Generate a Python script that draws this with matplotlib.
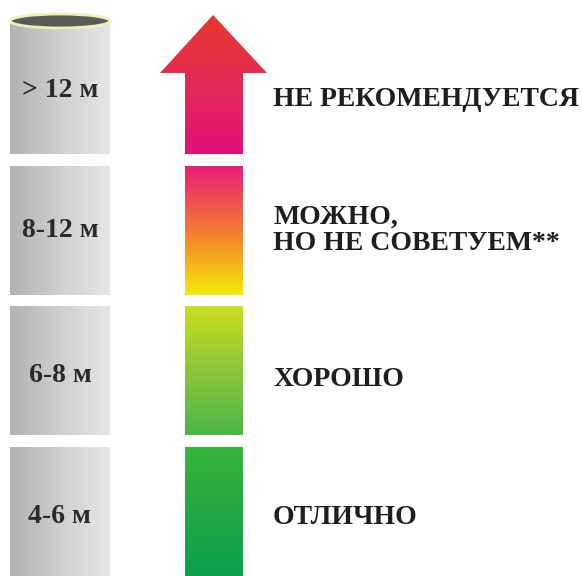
import numpy as np
import matplotlib.pyplot as plt
from matplotlib.patches import Polygon, Ellipse
from matplotlib.colors import to_rgb

# Данные
ranges = ['> 12 м', '8-12 м', '6-8 м', '4-6 м']
verdicts = ['НЕ РЕКОМЕНДУЕТСЯ', 'МОЖНО,\nНО НЕ СОВЕТУЕМ**', 'ХОРОШО', 'ОТЛИЧНО']
grad_colors = [
    ['#e8382c', '#e42a55', '#e2127a'],
    ['#e81e78', '#f47a32', '#f4ea08'],
    ['#cade1e', '#8cc63a', '#4cb648'],
    ['#38b63a', '#22a844', '#0ea04e'],
]

W, H = 582, 576
fig = plt.figure(figsize=(W / 100, H / 100), dpi=100)
ax = fig.add_axes([0, 0, 1, 1])
ax.set_xlim(0, W)
ax.set_ylim(H, 0)
ax.axis('off')

font = ['Liberation Serif', 'DejaVu Serif']


def gradient(cols, n=256):
    rgb = np.array([to_rgb(c) for c in cols])
    t = np.linspace(0, 1, n)
    pos = np.linspace(0, 1, len(cols))
    return np.stack([np.interp(t, pos, rgb[:, k]) for k in range(3)], axis=-1)


step = 140.5
seg_h = 129
cyl_x0, cyl_x1 = 10, 110
bar_x0, bar_x1 = 185, 243
label_dy = [3, 0, 5, 5]
verdict_dy = [12, 0, 8, 6]

for i, (rng, verdict, cols) in enumerate(zip(ranges, verdicts, grad_colors)):
    bottom = H - (len(ranges) - 1 - i) * step
    top = bottom - seg_h
    if i == 0:
        top = 21

    # серый цилиндр
    g = gradient(['#b2b2b2', '#cfcfcf', '#e6e6e6'])[np.newaxis, :, :]
    ax.imshow(g, extent=(cyl_x0, cyl_x1, bottom, top), aspect='auto', zorder=1)
    ax.text((cyl_x0 + cyl_x1) / 2, (top + bottom) / 2 + label_dy[i], rng,
            ha='center', va='center', fontsize=20, fontweight='bold',
            family=font, color='#2a2a2a', zorder=3)

    # цветная полоса
    v = gradient(cols)[:, np.newaxis, :]
    if i == 0:
        tip = 15
        head_y = 73
        poly = Polygon([(213, tip), (267, head_y), (bar_x1, head_y), (bar_x1, bottom),
                        (bar_x0, bottom), (bar_x0, head_y), (160, head_y)],
                       closed=True, facecolor='none', edgecolor='none')
        ax.add_patch(poly)
        im = ax.imshow(v, extent=(160, 267, bottom, tip), aspect='auto', zorder=1)
        im.set_clip_path(poly)
    else:
        ax.imshow(v, extent=(bar_x0, bar_x1, bottom, top), aspect='auto', zorder=1)

    ax.text(273, (top + bottom) / 2 + verdict_dy[i], verdict,
            ha='left', va='center', fontsize=20, fontweight='bold',
            family=font, color='#1e1e1e', linespacing=1.05, zorder=3)

# верх цилиндра
ax.add_patch(Ellipse((60, 21), 100, 14, facecolor='#5a5c58', edgecolor='#eef0b8',
                     linewidth=2, zorder=2))

fig.savefig('out.png', dpi=100)
